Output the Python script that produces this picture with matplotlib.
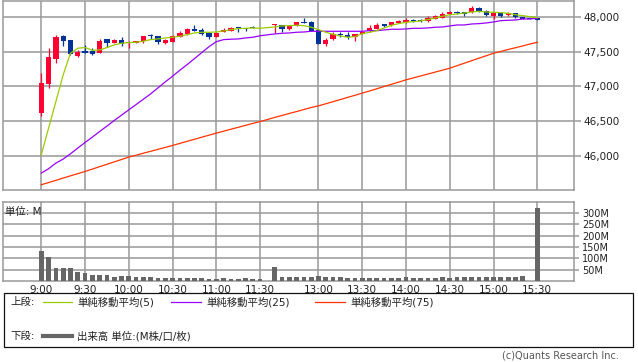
import numpy as np
import matplotlib
matplotlib.use("Agg")
import matplotlib.pyplot as plt
from matplotlib.lines import Line2D
from matplotlib.patches import Rectangle
from matplotlib.ticker import FuncFormatter

plt.rcParams['font.family'] = ['DejaVu Sans', 'Noto Sans CJK JP']

# 5-minute bars, index 0 = 9:00 ... 68 = 15:30 (lunch break compressed)
tick_pos = [0, 6, 12, 18, 24, 30, 38, 44, 50, 56, 62, 68]
tick_labels = ['9:00', '9:30', '10:00', '10:30', '11:00', '11:30',
               '13:00', '13:30', '14:00', '14:30', '15:00', '15:30']

nan = np.nan
opens = [46625, 47037, 47401, 47727, 47670, 47444, 47516, 47507, 47487, 47684,
         47631, 47670, 47622, 47630, 47655, 47746, 47727, 47630, 47645, 47717,
         47751, 47828, 47808, 47774, 47717, 47784, 47803, 47852, 47842, 47852,
         nan, nan, 47881, 47885, 47823, 47870, 47928, 47924, 47813, 47617,
         47680, 47760, 47746, 47708, 47755, 47794, 47832, 47899, 47881, 47918,
         47928, 47957, 47957, 47943, 47971, 47990, 48043, 48077, 48072, 48072,
         48129, 48086, 48014, 48062, 48033, 48053, 47995, 47986, 47981]
highs = [47195, 47559, 47741, 47735, 47675, 47526, 47593, 47550, 47684, 47690,
         47680, 47717, 47650, 47660, 47730, 47760, 47730, 47684, 47746, 47794,
         47846, 47889, 47842, 47780, 47780, 47842, 47850, 47852, 47846, 47875,
         nan, nan, 47899, 47890, 47885, 47930, 47981, 47940, 47828, 47703,
         47784, 47780, 47780, 47760, 47795, 47885, 47914, 47900, 47930, 47950,
         47981, 47976, 47976, 48014, 48029, 48072, 48080, 48091, 48075, 48158,
         48148, 48100, 48055, 48065, 48072, 48055, 47998, 47988, 47984]
lows = [46582, 46984, 47343, 47583, 47454, 47430, 47478, 47454, 47480, 47573,
        47620, 47580, 47550, 47620, 47630, 47680, 47617, 47617, 47640, 47710,
        47737, 47800, 47737, 47688, 47712, 47780, 47800, 47789, 47803, 47837,
        nan, nan, 47774, 47780, 47818, 47865, 47914, 47800, 47608, 47588,
        47675, 47717, 47684, 47660, 47750, 47790, 47830, 47852, 47875, 47915,
        47918, 47928, 47930, 47928, 47965, 47985, 48040, 48039, 48019, 48057,
        48072, 48020, 47967, 48000, 48019, 47986, 47965, 47965, 47950]
closes = [47056, 47430, 47717, 47659, 47464, 47501, 47487, 47473, 47655, 47631,
          47670, 47616, 47641, 47650, 47722, 47722, 47636, 47665, 47727, 47774,
          47832, 47803, 47751, 47717, 47774, 47818, 47842, 47837, 47823, 47837,
          nan, nan, 47899, 47823, 47870, 47924, 47914, 47803, 47617, 47674,
          47751, 47741, 47708, 47755, 47789, 47842, 47885, 47870, 47924, 47943,
          47952, 47947, 47948, 47981, 48010, 48043, 48072, 48057, 48043, 48129,
          48086, 48033, 48053, 48014, 48053, 47995, 47971, 47967, 47952]

ma5 = [46017, 46400, 46783, 47167, 47478, 47550, 47560, 47521, 47526, 47560,
       47598, 47622, 47631, 47636, 47651, 47674, 47684, 47698, 47708, 47722,
       47746, 47770, 47780, 47780, 47784, 47799, 47818, 47832, 47837, 47842,
       47837, nan, 47856, 47871, 47875, 47880, 47875, 47852, 47818, 47780,
       47751, 47727, 47708, 47717, 47760, 47780, 47803, 47842, 47880, 47904,
       47924, 47933, 47943, 47962, 47986, 48010, 48033, 48043, 48057, 48072,
       48081, 48072, 48067, 48062, 48053, 48033, 48019, 48005, 47990]
ma25 = [45753, 45816, 45897, 45955, 46031, 46113, 46194, 46271, 46352, 46430,
        46510, 46587, 46664, 46740, 46817, 46894, 46980, 47066, 47148, 47234,
        47315, 47401, 47487, 47573, 47645, 47674, 47680, 47684, 47698, 47708,
        47730, nan, 47756, 47765, 47770, 47780, 47784, 47794, 47794, 47794,
        47794, 47794, 47794, 47794, 47794, 47803, 47803, 47813, 47823, 47823,
        47828, 47837, 47837, 47842, 47852, 47856, 47871, 47885, 47885, 47899,
        47904, 47914, 47928, 47947, 47952, 47957, 47971, 47971, 47981]
ma75 = [45586, 45617, 45649, 45682, 45714, 45745, 45777, 45811, 45846, 45880,
        45915, 45949, 45984, 46011, 46040, 46067, 46095, 46123, 46151, 46181,
        46210, 46240, 46270, 46299, 46329, 46356, 46385, 46412, 46441, 46468,
        46495, nan, 46554, 46583, 46612, 46639, 46668, 46697, 46721, 46751,
        46781, 46812, 46843, 46873, 46904, 46935, 46967, 47000, 47031, 47063,
        47095, 47123, 47151, 47179, 47207, 47235, 47263, 47299, 47335, 47371,
        47407, 47442, 47478, 47504, 47532, 47557, 47583, 47611, 47636]

# volume in millions
volume = [133, 106, 58, 58, 58, 40, 36, 27, 27, 27,
          19, 21, 21, 18, 18, 18, 13, 13, 13, 13,
          13, 13, 13, 10, 10, 13, 10, 10, 13, 10,
          10, nan, 60, 18, 18, 18, 18, 18, 22, 16,
          16, 16, 12, 12, 12, 12, 12, 12, 12, 12,
          16, 12, 12, 12, 12, 16, 12, 16, 16, 19,
          16, 16, 19, 16, 16, 19, 22, 1, 322]

W, H = 638, 362
fig = plt.figure(figsize=(W / 100, H / 100), dpi=100)


def rect(x0, y0, x1, y1):
    return [x0 / W, 1 - y1 / H, (x1 - x0) / W, (y1 - y0) / H]


grid_c = '#999999'
text_c = '#222222'
x = np.arange(len(closes))
xlim = (-5.25, 73.03)

# ---- upper panel: candles + moving averages
ax = fig.add_axes(rect(3, 0.5, 574, 190))
ax.set_xlim(*xlim)
ax.set_ylim(45510, 48237)
for sp in ax.spines.values():
    sp.set_color(grid_c)
    sp.set_linewidth(1.1)
ax.set_xticks(tick_pos)
ax.set_xticklabels([])
ax.tick_params(axis='x', length=0)
ax.set_yticks([46000, 46500, 47000, 47500, 48000])
ax.yaxis.set_major_formatter(FuncFormatter(lambda v, p: f'{int(v):,}'))
ax.yaxis.tick_right()
ax.tick_params(axis='y', length=5, width=1.1, color=grid_c, pad=2,
               labelsize=7.5, labelcolor=text_c)
ax.grid(True, color=grid_c, linewidth=1.1)
ax.set_axisbelow(True)

o = np.array(opens, float)
h = np.array(highs, float)
l = np.array(lows, float)
c = np.array(closes, float)
ok = ~np.isnan(c)
up = ok & (c >= o)
dn = ok & (c < o)
red, blue = '#ff0033', '#003399'
for m, col in ((up, red), (dn, blue)):
    ax.vlines(x[m], l[m], h[m], color=col, linewidth=0.9, zorder=3)
    body = np.maximum(np.abs(c[m] - o[m]), 12)
    ax.bar(x[m], body, bottom=np.minimum(o[m], c[m]), width=0.72,
           color=col, linewidth=0, zorder=3)

for vals, col in ((ma75, '#ff3300'), (ma25, '#9900ff'), (ma5, '#99cc00')):
    v = np.array(vals, float)
    k = ~np.isnan(v)
    ax.plot(x[k], v[k], color=col, linewidth=0.9, zorder=4)

# ---- lower panel: volume
axv = fig.add_axes(rect(3, 201.5, 574, 281))
axv.set_xlim(*xlim)
axv.set_ylim(0, 350)
for sp in axv.spines.values():
    sp.set_color(grid_c)
    sp.set_linewidth(1.1)
vol = np.array(volume, float)
k = ~np.isnan(vol)
axv.bar(x[k], vol[k], width=0.65, color='#666666', linewidth=0, zorder=3)
axv.set_xticks(tick_pos)
axv.set_xticklabels(tick_labels)
axv.tick_params(axis='x', length=0, pad=3, labelsize=7.5, labelcolor=text_c)
axv.set_yticks([50, 100, 150, 200, 250, 300])
axv.set_yticklabels(['50M', '100M', '150M', '200M', '250M', '300M'])
axv.yaxis.tick_right()
axv.tick_params(axis='y', length=3.5, width=1.1, color=grid_c, pad=2.5,
                labelsize=7, labelcolor=text_c)
axv.grid(True, color=grid_c, linewidth=1.1)
axv.set_axisbelow(True)
axv.text(0.004, 0.93, '単位: M', transform=axv.transAxes, fontsize=7.5,
         color=text_c, va='top', ha='left')

# ---- legend box
fig.add_artist(Rectangle((4 / W, 1 - 347 / H), 629 / W, 54 / H,
                         fill=False, edgecolor='#111111', linewidth=0.9))


def fx(px):
    return px / W


def fy(py):
    return 1 - py / H


row1, row2 = 302, 336
fig.text(fx(10), fy(row1), '上段:', fontsize=7.5, va='center', color=text_c)
items = [(43, 72, 77, '#99cc00', '単純移動平均(5)'),
         (171, 201, 206, '#9900ff', '単純移動平均(25)'),
         (315, 345, 350, '#ff3300', '単純移動平均(75)')]
for x0, x1, tx, col, lab in items:
    fig.add_artist(Line2D([fx(x0), fx(x1)], [fy(row1), fy(row1)],
                          color=col, linewidth=0.9))
    fig.text(fx(tx), fy(row1), lab, fontsize=7.5, va='center', color=text_c)

fig.text(fx(10), fy(row2), '下段:', fontsize=7.5, va='center', color=text_c)
fig.add_artist(Line2D([fx(43), fx(72)], [fy(row2), fy(row2)],
                      color='#666666', linewidth=3))
fig.text(fx(77), fy(row2), '出来高 単位:(M株/口/枚)', fontsize=7.5,
         va='center', color=text_c)

fig.text(fx(619), fy(356), '(c)Quants Research Inc.', fontsize=7,
         va='center', ha='right', color='#555555')

fig.savefig('out.png', dpi=100)
